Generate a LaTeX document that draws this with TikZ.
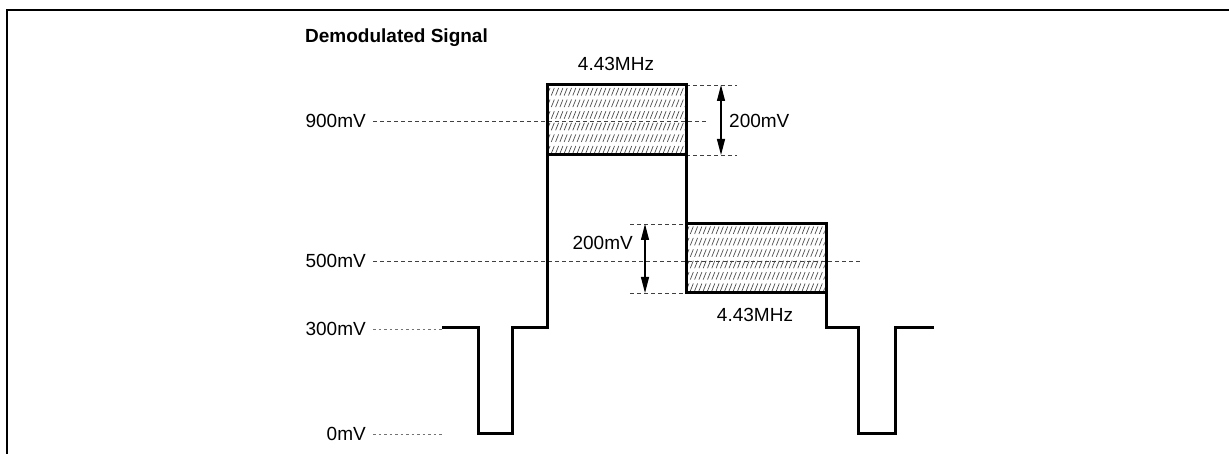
\documentclass[tikz,border=0pt]{standalone}
\usepackage{fontspec}
\setmainfont{Liberation Sans}
\usetikzlibrary{arrows.meta}
\begin{document}
\begin{tikzpicture}[x=1pt,y=-1pt,
  sig/.style={line width=3pt, line join=miter, line cap=rect},
  guide/.style={black!75, line width=0.8pt, dash pattern=on 4pt off 3pt},
  faint/.style={black!55, line width=0.8pt, dash pattern=on 2.5pt off 3pt},
  lbl/.style={font=\fontsize{19}{23}\selectfont, inner sep=0pt},
  ttl/.style={font=\bfseries\fontsize{19}{23}\selectfont, inner sep=0pt},
  dimarrow/.style={line width=1.2pt, {Triangle[length=16pt,width=8pt]}-{Triangle[length=16pt,width=8pt]}},
  hatch/.style={black!70, line width=0.7pt},
  frame/.style={line width=2pt}]
\useasboundingbox (0,0) rectangle (1229,454);
% frame
\draw[frame] (7,454) -- (7,10) -- (1229,10);
% title
\node[ttl, anchor=base west] (title) at (305,43) {Demodulated Signal};
% level labels
\node[lbl, anchor=east] (l900) at (366,121) {900mV};
\node[lbl, anchor=east] (l500) at (366,261) {500mV};
\node[lbl, anchor=east] (l300) at (366,329) {300mV};
\node[lbl, anchor=east] (l0)   at (366,434) {0mV};
% coordinates
\coordinate (g900a) at (373,121);
\coordinate (g900b) at (707,121);
\coordinate (g500a) at (373,261);
\coordinate (g500b) at (860,261);
\coordinate (g300a) at (373,329);
\coordinate (g300b) at (443,329);
\coordinate (g0a) at (373,434);
\coordinate (g0b) at (443,434);
% hatch fills
\begin{scope}
  \clip (548.5,86.5) rectangle (684.5,153.5);
  \foreach \r in {0,...,5} {
    \foreach \s in {0,...,32} {
      \draw[hatch] (547+\s*4.3,95.5+\r*11.6) -- ++(3,-7.5);
    }
  }
\end{scope}
\begin{scope}
  \clip (687.5,225.5) rectangle (824.5,291.5);
  \foreach \r in {0,...,5} {
    \foreach \s in {0,...,33} {
      \draw[hatch] (686+\s*4.3,234+\r*11.4) -- ++(3,-7.5);
    }
  }
\end{scope}
% guide lines
\draw[guide] (g900a) -- (g900b);
\draw[guide] (g500a) -- (g500b);
\draw[faint] (g300a) -- (g300b);
\draw[faint] (g0a) -- (g0b);
\coordinate (t1a) at (686,85);  \coordinate (t1b) at (737,85);
\coordinate (b1a) at (686,155); \coordinate (b1b) at (737,155);
\coordinate (t2a) at (630,224); \coordinate (t2b) at (686,224);
\coordinate (b2a) at (630,293); \coordinate (b2b) at (686,293);
\draw[guide] (t1a) -- (t1b);
\draw[guide] (b1a) -- (b1b);
\draw[guide] (t2a) -- (t2b);
\draw[guide] (b2a) -- (b2b);
% signal
\draw[sig] (443,328) -- (478,328) -- (478,433) -- (512,433) -- (512,328) -- (547,328)
  -- (547,85) -- (686,85) -- (686,293);
\draw[sig] (686,224) -- (826,224) -- (826,328) -- (858,328) -- (858,433) -- (895,433)
  -- (895,328) -- (932,328);
\draw[sig] (547,155) -- (686,155);
\draw[sig] (686,293) -- (826,293);
% dimension arrows
\coordinate (a1t) at (721,85);  \coordinate (a1b) at (721,155);
\coordinate (a2t) at (645,224); \coordinate (a2b) at (645,293);
\draw[dimarrow] (a1t) -- (a1b);
\draw[dimarrow] (a2t) -- (a2b);
% labels
\node[lbl] (f1) at (616,64) {4.43MHz};
\node[lbl, anchor=west] (d1) at (729,121) {200mV};
\node[lbl, anchor=east] (d2) at (633,243) {200mV};
\node[lbl] (f2) at (755,315) {4.43MHz};
\end{tikzpicture}
\end{document}
